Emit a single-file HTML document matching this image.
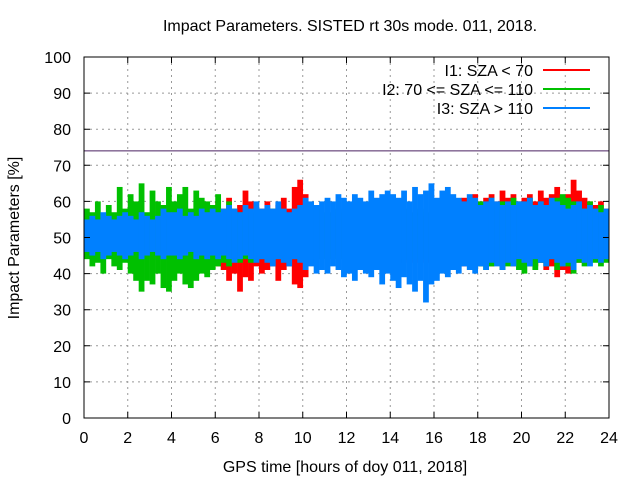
<!DOCTYPE html>
<html><head><meta charset="utf-8"><style>body{margin:0;background:#fff}svg{display:block;font-family:"Liberation Sans",sans-serif}</style></head>
<body>
<svg id="c" width="640" height="480">
<text x="350" y="31" font-size="16" text-anchor="middle">Impact Parameters. SISTED rt 30s mode. 011, 2018.</text>
<text x="345" y="472" font-size="16" text-anchor="middle">GPS time [hours of doy 011, 2018]</text>
<text transform="translate(19,238) rotate(-90)" font-size="16" text-anchor="middle">Impact Parameters [%]</text>
<g id="grid"></g><g id="marks"></g><g id="axes"></g><g id="legend"></g>
</svg>
<script>
const xTicks=[0,2,4,6,8,10,12,14,16,18,20,22,24];
const yTicks=[0,10,20,30,40,50,60,70,80,90,100];
const binHours=0.25;
const threshold=74;
const redHi=[55,55,55,55,55,55,55,55,55,55,55,55,55,55,55,55,55,55,55,55,55,55,55,55,60,58,61,57,59,63,60,57,58,60,57,59,61,58,64,66,62,59,57,56,56,57,56,57,56,57,56,57,56,57,56,57,56,57,56,57,56,57,56,57,57,58,59,60,59,61,60,62,60,61,62,60,63,61,62,60,61,62,60,63,61,62,64,61,62,66,63,61,60,59,60,58];
const redLo=[45,45,45,45,45,45,45,45,45,45,45,45,45,45,45,45,45,45,45,45,45,45,45,45,42,41,38,40,35,39,38,42,40,41,42,38,41,42,37,36,39,43,44,45,44,44,45,44,44,43,44,43,44,43,44,43,44,43,44,43,44,43,44,43,43,44,42,43,44,42,43,42,42,43,42,44,41,43,42,43,43,44,42,43,41,42,39,41,40,42,43,44,43,44,43,44];
const greenHi=[58,57,60,56,59,57,64,58,62,60,65,57,63,60,59,64,60,62,64,58,63,61,60,59,62,57,60,58,57,56,57,56,57,56,58,56,57,56,57,58,57,56,58,57,56,57,58,56,57,56,58,57,56,57,58,56,57,56,58,57,56,58,57,56,57,58,57,56,58,59,60,58,60,58,61,59,60,58,61,60,59,61,58,60,59,58,61,62,61,60,59,58,60,58,59,57];
const greenLo=[44,42,43,40,44,42,41,43,40,38,35,38,37,40,36,35,38,40,37,36,38,40,39,41,42,43,42,44,43,44,43,44,44,44,44,44,44,44,44,44,44,44,44,44,44,44,44,44,44,44,44,44,44,44,44,44,44,44,44,44,44,44,44,44,44,43,44,43,42,43,44,43,42,41,42,43,41,42,44,41,40,42,41,43,42,44,41,42,42,40,43,42,44,43,42,43];
const blueHi=[55,56,55,57,56,55,56,57,56,55,57,56,55,56,58,57,57,58,56,57,56,58,57,58,57,58,59,58,57,59,58,60,58,59,58,60,58,57,58,59,61,60,59,60,61,60,62,61,60,62,61,60,63,61,62,63,62,61,63,60,64,62,63,65,61,63,64,62,61,60,62,61,59,60,61,60,59,60,59,60,60,61,59,60,59,61,60,59,58,59,60,58,59,58,57,58];
const blueLo=[46,45,46,44,45,46,45,44,45,46,44,45,46,45,44,45,45,44,45,46,44,45,44,45,44,45,44,43,44,45,44,43,44,43,42,44,43,42,44,43,41,42,40,41,40,42,41,39,40,38,41,40,39,41,37,40,38,36,39,37,35,38,32,37,38,40,39,41,40,42,41,40,42,41,43,42,41,43,42,44,43,42,44,43,42,44,43,42,43,41,44,43,42,44,43,44];
const L=84,R=609,T=57,B=418;
const xs=t=>L+(R-L)*t/24, ys=v=>B-(B-T)*v/100;
const NS='http://www.w3.org/2000/svg';
function mk(tag,attrs,parent){const e=document.createElementNS(NS,tag);for(const k in attrs)e.setAttribute(k,attrs[k]);parent.appendChild(e);return e;}
const grid=document.getElementById('grid'),marks=document.getElementById('marks'),axes=document.getElementById('axes'),leg=document.getElementById('legend');
xTicks.forEach(t=>{
 if(t>0&&t<24){const g=mk('line',{x1:xs(t),x2:xs(t),y1:T,y2:B,stroke:'#999','stroke-dasharray':'2,4'},grid);
 
 }
 const tk=mk('path',{d:`M${xs(t)},${B}v-6M${xs(t)},${T}v6`,stroke:'#000'},axes);
 
 
 const tx=mk('text',{x:xs(t),y:443,'font-size':16,'text-anchor':'middle'},axes);tx.textContent=t;
 
 
});
yTicks.forEach(v=>{
 if(v>0&&v<100){const g=mk('line',{x1:L,x2:R,y1:ys(v),y2:ys(v),stroke:'#999','stroke-dasharray':'2,4'},grid);
 
 }
 const tk=mk('path',{d:`M${L},${ys(v)}h6M${R},${ys(v)}h-6`,stroke:'#000'},axes);
 
 
 const tx=mk('text',{x:71,y:ys(v)+6,'font-size':16,'text-anchor':'end'},axes);tx.textContent=v;
 
 
});
const fr=mk('rect',{x:L,y:T,width:R-L,height:B-T,fill:'none',stroke:'#000'},axes);


const series=[['red',redHi,redLo,'#ff0000'],['green',greenHi,greenLo,'#00c000'],['blue',blueHi,blueLo,'#0080ff']];
series.forEach(([nm,hi,lo,col])=>{
 hi.forEach((h,i)=>{
  const x0=xs(i*binHours),x1=xs((i+1)*binHours);
  const r=mk('rect',{x:x0,y:ys(h),width:x1-x0+0.3,height:ys(lo[i])-ys(h),fill:col},marks);
  
  
 });
});
const th=mk('line',{x1:L,x2:R,y1:ys(threshold),y2:ys(threshold),stroke:'#4a2060','stroke-width':1},marks);


const legItems=[['I1: SZA < 70','#ff0000'],['I2: 70 <= SZA <= 110','#00c000'],['I3: SZA > 110','#0080ff']];
legItems.forEach(([lab,col],i)=>{
 const y=70+i*19;
 const t=mk('text',{x:533,y:y+6,'font-size':16,'text-anchor':'end'},leg);t.textContent=lab;
 
 
 const l=mk('line',{x1:543,x2:590,y1:y,y2:y,stroke:col,'stroke-width':2},leg);
 
 
});
</script>
</body></html>
